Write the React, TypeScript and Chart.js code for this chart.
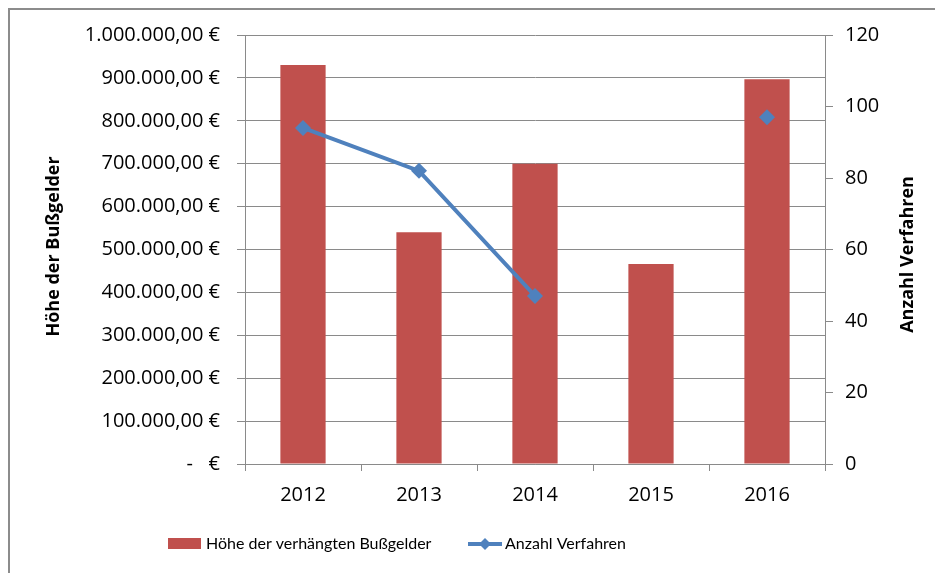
import React, { useEffect, useRef } from "react";
import { Chart, registerables } from "chart.js";

Chart.register(...registerables);

const years = ["2012", "2013", "2014", "2015", "2016"];
const fines = [930000, 540000, 700000, 466000, 897000];
const cases: (number | null)[] = [94, 82, 47, null, 97];

const fineLabel = "Höhe der verhängten Bußgelder";
const casesLabel = "Anzahl Verfahren";
const leftTitle = "Höhe der Bußgelder";
const rightTitle = "Anzahl Verfahren";

const leftMax = 1000000;
const leftStep = 100000;
const rightMax = 120;
const rightStep = 20;

const BAR = "#C0504D";
const LINE = "#4F81BD";
const GRID = "#8a8a8a";
const FONT = "'Open Sans'";
const LEGEND_FONT = "Lato";

function euro(v: number): string {
  if (v === 0) return "-   €";
  const s = Math.round(v).toString().replace(/\B(?=(\d{3})+(?!\d))/g, ".");
  return s + ",00 €";
}

const overlay = {
  id: "overlay",
  afterDraw(chart: any) {
    const ctx = chart.ctx as CanvasRenderingContext2D;
    const area = chart.chartArea;
    const midY = (area.top + area.bottom) / 2;
    ctx.save();
    ctx.fillStyle = "#000";
    ctx.font = `bold 18px ${FONT}`;
    ctx.textAlign = "center";
    ctx.textBaseline = "middle";
    ctx.save();
    ctx.translate(44, midY - 3);
    ctx.rotate(-Math.PI / 2);
    ctx.fillText(leftTitle, 0, 0);
    ctx.restore();
    ctx.save();
    ctx.translate(898, midY + 5);
    ctx.rotate(-Math.PI / 2);
    ctx.fillText(rightTitle, 0, 0);
    ctx.restore();

    // legend
    const ly = 534;
    ctx.font = `16px ${LEGEND_FONT}`;
    ctx.textAlign = "left";
    ctx.fillStyle = BAR;
    ctx.fillRect(158, ly - 6, 33, 11);
    ctx.fillStyle = "#000";
    ctx.fillText(fineLabel, 196, ly);
    ctx.strokeStyle = LINE;
    ctx.lineWidth = 4;
    ctx.beginPath();
    ctx.moveTo(458, ly);
    ctx.lineTo(492, ly);
    ctx.stroke();
    ctx.fillStyle = LINE;
    ctx.beginPath();
    ctx.moveTo(475, ly - 6);
    ctx.lineTo(481, ly);
    ctx.lineTo(475, ly + 6);
    ctx.lineTo(469, ly);
    ctx.closePath();
    ctx.fill();
    ctx.fillStyle = "#000";
    ctx.fillText(casesLabel, 495, ly);
    ctx.restore();
  },
};

export default function App() {
  const ref = useRef<HTMLCanvasElement>(null);
  useEffect(() => {
    if (!ref.current) return;
    const chart = new Chart(ref.current, {
      type: "bar",
      data: {
        labels: years,
        datasets: [
          {
            type: "line",
            label: casesLabel,
            data: cases,
            yAxisID: "y1",
            borderColor: LINE,
            backgroundColor: LINE,
            borderWidth: 4,
            pointStyle: "rectRot",
            pointRadius: 8,
            pointBorderWidth: 0,
            spanGaps: false,
            order: 0,
          } as any,
          {
            type: "bar",
            label: fineLabel,
            data: fines,
            yAxisID: "y",
            backgroundColor: BAR,
            categoryPercentage: 1,
            barPercentage: 0.39,
            order: 1,
          },
        ],
      },
      options: {
        animation: false,
        responsive: true,
        maintainAspectRatio: false,
        layout: { padding: { top: 25, left: 0, right: 0, bottom: 0 } },
        plugins: { legend: { display: false }, tooltip: { enabled: false } },
        scales: {
          x: {
            offset: true,
            grid: {
              offset: true,
              drawOnChartArea: false,
              drawTicks: true,
              tickLength: 7,
              color: GRID,
            },
            border: { color: GRID },
            ticks: { color: "#000", font: { family: FONT, size: 20 }, padding: 12 },
            afterFit(scale: any) {
              scale.height = 109;
              scale.paddingLeft = 0;
              scale.paddingRight = 0;
            },
          },
          y: {
            position: "left",
            min: 0,
            max: leftMax,
            ticks: {
              stepSize: leftStep,
              color: "#000",
              font: { family: FONT, size: 20 },
              padding: 17,
              callback: (v: any) => euro(Number(v)),
            },
            grid: { color: GRID, tickLength: 8, drawTicks: true },
            border: { color: GRID },
            afterFit(scale: any) {
              scale.width = 235;
              scale.paddingTop = 0;
              scale.paddingBottom = 0;
            },
          },
          y1: {
            position: "right",
            min: 0,
            max: rightMax,
            ticks: {
              stepSize: rightStep,
              color: "#000",
              font: { family: FONT, size: 20 },
              padding: 12,
            },
            grid: { drawOnChartArea: false, color: GRID, tickLength: 8 },
            border: { color: GRID },
            afterFit(scale: any) {
              scale.width = 110;
              scale.paddingTop = 0;
              scale.paddingBottom = 0;
            },
          },
        },
      },
      plugins: [overlay],
    });
    return () => chart.destroy();
  }, []);

  return (
    <div style={{ position: "fixed", inset: 0, overflow: "hidden", background: "#fff" }}>
      <div
        style={{
          position: "absolute",
          left: 8,
          top: 8,
          width: 1000,
          height: 700,
          border: "2px solid #8c8c8c",
          boxSizing: "border-box",
        }}
      />
      <div style={{ position: "absolute", left: 10, top: 10, width: 925, height: 563 }}>
        <canvas ref={ref} />
      </div>
    </div>
  );
}
